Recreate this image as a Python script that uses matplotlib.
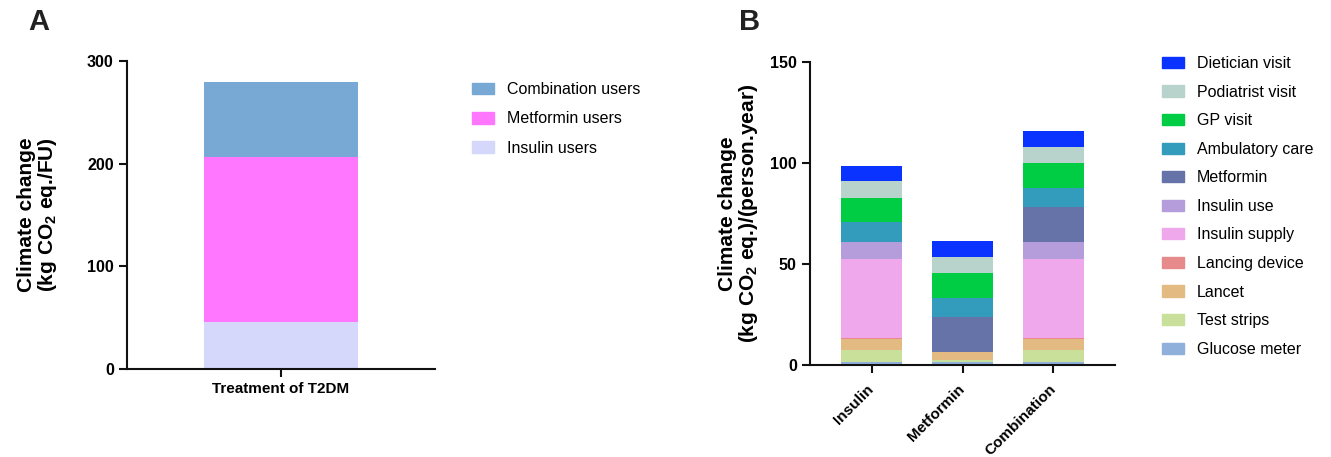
import matplotlib
matplotlib.use("Agg")
import matplotlib.pyplot as plt
from matplotlib.patches import Patch
import numpy as np

plt.rcParams['font.family'] = ['Liberation Sans', 'DejaVu Sans']
plt.rcParams['mathtext.fontset'] = 'custom'
plt.rcParams['mathtext.rm'] = 'Liberation Sans:bold'
plt.rcParams['mathtext.it'] = 'Liberation Sans:bold'
plt.rcParams['mathtext.bf'] = 'Liberation Sans:bold'

# panel A: total footprint per functional unit, split by user group
a_category = ["Treatment of T2DM"]
a_groups = ["Insulin users", "Metformin users", "Combination users"]
a_values = [46.0, 160.5, 73.5]
a_colors = ["#D5D7FB", "#FF77FF", "#78A9D4"]

# panel B: contributions per person and year (stacked bottom to top)
b_categories = ["Insulin", "Metformin", "Combination"]
b_items = ["Glucose meter", "Test strips", "Lancet", "Lancing device",
           "Insulin supply", "Insulin use", "Metformin", "Ambulatory care",
           "GP visit", "Podiatrist visit", "Dietician visit"]
glucose_meter = [1.4, 1.4, 1.4]
test_strips = [5.9, 1.3, 5.9]
lancet = [5.8, 3.6, 5.8]
lancing_device = [0.4, 0.0, 0.4]
insulin_supply = [38.9, 0.0, 38.9]
insulin_use = [8.4, 0.0, 8.4]
metformin = [0.0, 17.4, 17.4]
ambulatory_care = [9.9, 9.6, 9.6]
gp_visit = [11.9, 12.2, 12.2]
podiatrist_visit = [8.4, 7.9, 7.9]
dietician_visit = [7.4, 7.9, 7.9]
b_values = [glucose_meter, test_strips, lancet, lancing_device, insulin_supply,
            insulin_use, metformin, ambulatory_care, gp_visit,
            podiatrist_visit, dietician_visit]
b_colors = ["#90B0DC", "#C9E09A", "#E3BA82", "#E68A8C", "#F0A8EC", "#B49DDA",
            "#6673A9", "#339BBB", "#00CC44", "#B8D3CC", "#0A33FF"]

W, H = 1331, 457
fig = plt.figure(figsize=(W / 100, H / 100), dpi=100)


def style_axes(ax):
    for s in ['top', 'right']:
        ax.spines[s].set_visible(False)
    for s in ['left', 'bottom']:
        ax.spines[s].set_linewidth(1.5)
        ax.spines[s].set_color('#111111')
    ax.tick_params(axis='both', width=1.5, length=6, color='#111111')
    for lab in ax.get_yticklabels():
        lab.set_fontweight('bold')
        lab.set_fontsize(11.5)


# ---- panel A
axA = fig.add_axes([127 / W, 1 - 369 / H, 308 / W, 308 / H])
bottom = 0
for val, col, name in zip(a_values, a_colors, a_groups):
    axA.bar([0], [val], width=1.0, bottom=bottom, color=col, label=name)
    bottom += val
axA.set_xlim(-1, 1)
axA.set_ylim(0, 300)
axA.set_yticks([0, 100, 200, 300])
axA.set_xticks([0])
axA.set_xticklabels(a_category, fontsize=11, fontweight='bold')
style_axes(axA)
axA.set_ylabel("Climate change\n(kg CO$_2$ eq./FU)", fontsize=15,
               fontweight='bold', labelpad=20, linespacing=1.0)

hA = [Patch(color=c, label=n) for c, n in zip(a_colors, a_groups)][::-1]
fig.legend(handles=hA, loc='upper left', bbox_to_anchor=(472 / W, 1 - 82 / H),
           frameon=False, fontsize=11.5, handlelength=1.4, handleheight=0.75,
           handletextpad=0.8, labelspacing=0.9, borderpad=0,
           borderaxespad=0)

# ---- panel B
axB = fig.add_axes([810 / W, 1 - 365 / H, 305 / W, 303 / H])
x = np.arange(len(b_categories))
bottom = np.zeros(len(b_categories))
for vals, col, name in zip(b_values, b_colors, b_items):
    axB.bar(x, vals, width=0.67, bottom=bottom, color=col, label=name)
    bottom += np.array(vals)
axB.set_xlim(-0.676, 2.676)
axB.set_ylim(0, 150)
axB.set_yticks([0, 50, 100, 150])
axB.set_xticks(x)
axB.set_xticklabels(b_categories, rotation=45, ha='right', va='center',
                    rotation_mode='anchor', fontsize=11, fontweight='bold')
style_axes(axB)
axB.tick_params(axis='x', pad=10)
axB.set_ylabel("Climate change\n(kg CO$_2$ eq.)/(person.year)", fontsize=15,
               fontweight='bold', labelpad=7, linespacing=1.0)

hB = [Patch(color=c, label=n) for c, n in zip(b_colors, b_items)][::-1]
fig.legend(handles=hB, loc='upper left', bbox_to_anchor=(1162 / W, 1 - 56 / H),
           frameon=False, fontsize=11.5, handlelength=1.4, handleheight=0.7,
           handletextpad=0.8, labelspacing=0.85, borderpad=0,
           borderaxespad=0)

fig.text(39 / W, 1 - 22 / H, "A", fontsize=21, fontweight='bold',
         ha='center', va='center', color='#222222')
fig.text(750 / W, 1 - 22 / H, "B", fontsize=21, fontweight='bold',
         ha='center', va='center', color='#222222')

fig.savefig("out.png", dpi=100)
